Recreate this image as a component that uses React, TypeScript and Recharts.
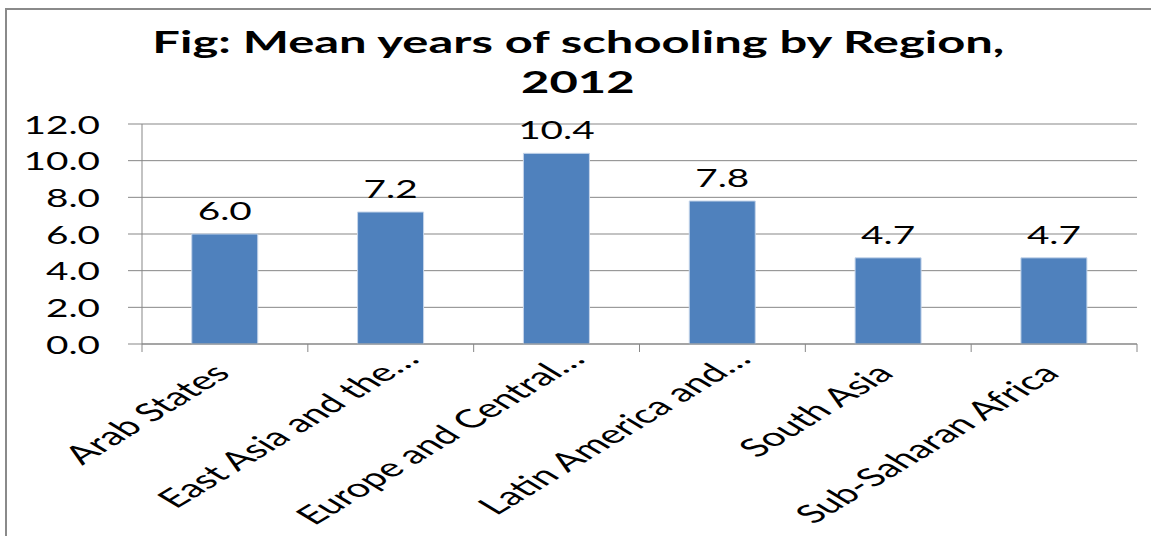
import React from 'react';
import { BarChart, Bar, XAxis, YAxis, CartesianGrid, LabelList } from 'recharts';

const regions = ['Arab States', 'East Asia and the…', 'Europe and Central…', 'Latin America and…', 'South Asia', 'Sub-Saharan Africa'];
const meanYears = [6.0, 7.2, 10.4, 7.8, 4.7, 4.7];
const yTicks = [0, 2, 4, 6, 8, 10, 12];
const titleLines = ['Fig: Mean years of schooling by Region,', '2012'];

const data = regions.map((region, i) => ({ region, value: meanYears[i] }));

// the source picture is stretched sideways, so text gets the same squeeze
const STRETCH = 1.55;
const FONT = 'Lato, "Open Sans", sans-serif';
const GRID = '#878787';
const BORDER = '#95b3d7';

const YTick = (props: any) => {
  const { x, y, payload } = props;
  return (
    <text transform={`translate(${x},${y}) scale(${STRETCH},1)`} textAnchor="end" dominantBaseline="central"
      fontFamily={FONT} fontSize={25} fill="#000">
      {Number(payload.value).toFixed(1)}
    </text>
  );
};

const XTick = (props: any) => {
  const { x, y, payload, index, visibleTicksCount } = props;
  const half = payload.offset ?? 0;
  const label = String(payload.value);
  // truncated labels sit a little further out, like in the source
  const shift = label.endsWith('…') ? 20 : 0;
  return (
    <g>
      <line x1={x - half} x2={x - half} y1={y} y2={y + 8} stroke={GRID} />
      {index === visibleTicksCount - 1 && <line x1={x + half} x2={x + half} y1={y} y2={y + 8} stroke={GRID} />}
      <text transform={`translate(${x + 7},${y + 31}) scale(1.65,1) rotate(-45)`} textAnchor="end" dx={shift}
        fontFamily={FONT} fontSize={25.5} fill="#000">
        {label}
      </text>
    </g>
  );
};

const ValueLabel = (props: any) => {
  const { x, y, width, value } = props;
  return (
    <text transform={`translate(${x + width / 2},${y - 14}) scale(${STRETCH},1)`} textAnchor="middle"
      fontFamily={FONT} fontSize={25} fill="#000">
      {Number(value).toFixed(1)}
    </text>
  );
};

const App = () => {
  return (
    <div style={{ position: 'absolute', left: 0, top: 0, width: 1151, height: 536, overflow: 'hidden', background: '#fff' }}>
      <div style={{ position: 'absolute', left: 5, top: 8, width: 1300, height: 700, border: '2px solid #8a8a8a' }} />
      <div style={{ position: 'absolute', left: 0, top: 21, width: 1156, textAlign: 'center', fontFamily: FONT, fontWeight: 700, fontSize: 30, lineHeight: '40px' }}>
        {titleLines.map((line) => (
          <div key={line}>
            <span style={{ display: 'inline-block', transform: 'scaleX(1.63)' }}>{line}</span>
          </div>
        ))}
      </div>
      <div style={{ position: 'absolute', left: 0, top: 0 }}>
        <BarChart width={1151} height={536} data={data} margin={{ top: 124, right: 14, left: 0, bottom: 0 }} barCategoryGap="30%">
          <CartesianGrid vertical={false} stroke={GRID} />
          <XAxis dataKey="region" xAxisId="frame" orientation="top" height={0} tick={false} tickLine={false} axisLine={{ stroke: BORDER }} />
          <YAxis yAxisId="frame" orientation="right" width={0} domain={[0, 12]} tick={false} tickLine={false} axisLine={{ stroke: BORDER }} />
          <XAxis dataKey="region" height={192} interval={0} tickLine={false} tickSize={0} tickMargin={0}
            axisLine={{ stroke: GRID }} tick={<XTick />} />
          <YAxis width={142} domain={[0, 12]} ticks={yTicks} interval={0} tickSize={14} tickMargin={28}
            tickLine={{ stroke: GRID }} axisLine={{ stroke: GRID }} tick={<YTick />} />
          <Bar dataKey="value" fill="#4f81bd" stroke="#c5d5ea" strokeWidth={1} isAnimationActive={false}>
            <LabelList dataKey="value" content={<ValueLabel />} />
          </Bar>
        </BarChart>
      </div>
    </div>
  );
};

export default App;
